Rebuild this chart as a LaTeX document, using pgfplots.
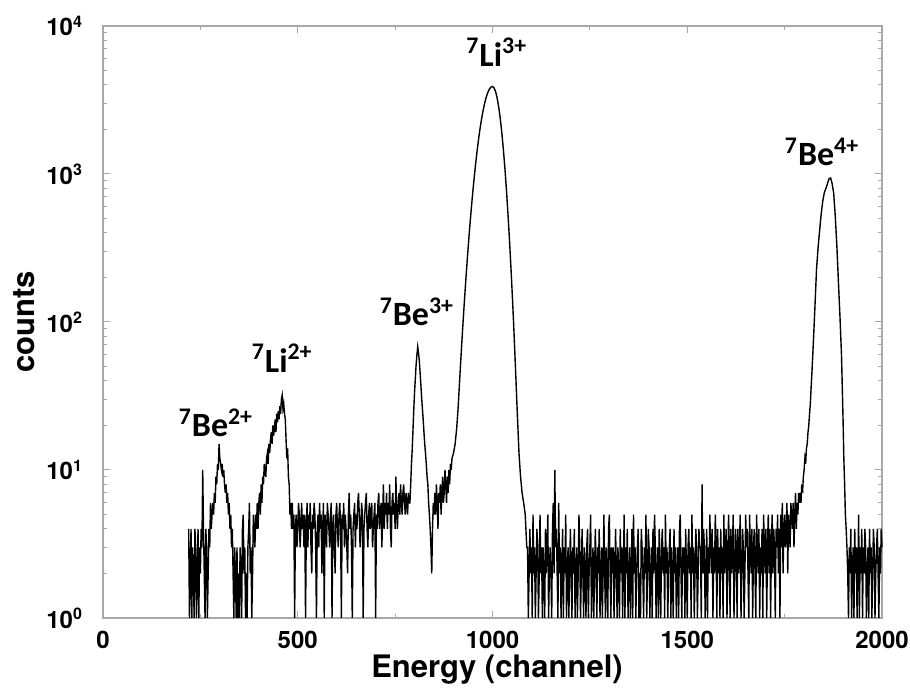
\documentclass[border=0pt]{standalone}
\usepackage{fontspec}
\usepackage{pgfplots}
\pgfplotsset{compat=1.18}
\newfontfamily\heros{TeX Gyre Heros}
\newfontfamily\carlito{Carlito}
\definecolor{axgray}{HTML}{A8A8A8}
\begin{document}
\begin{tikzpicture}
\useasboundingbox (-51.5pt,-35pt) rectangle (403.5pt,309pt);
\begin{axis}[
  at={(0pt,0pt)}, anchor=south west,
  scale only axis, width=389.5pt, height=296pt,
  xmin=0, xmax=2000, ymin=1, ymax=10000,
  ymode=log,
  axis line style={draw=axgray, line width=0.6pt},
  every tick/.style={draw=axgray, line width=0.5pt},
  major tick length=3.5pt, minor tick length=2pt,
  tick align=inside,
  xtick={0,500,1000,1500,2000},
  xticklabels={0,500,1000,1500,2000},
  minor xtick={250,750,1250,1750},
  ytick={1,10,100,1000,10000},
  yticklabels={10\textsuperscript{0},10\textsuperscript{1},10\textsuperscript{2},10\textsuperscript{3},10\textsuperscript{4}},
  minor ytick={2,3,4,5,6,7,8,9,20,30,40,50,60,70,80,90,200,300,400,500,600,700,800,900,2000,3000,4000,5000,6000,7000,8000,9000},
  tick label style={font=\heros\bfseries\fontsize{12}{14}\selectfont},
  yticklabel style={xshift=-6.5pt},
  xticklabel style={inner sep=0pt, yshift=-6.5pt},
  clip=false,
]
\addplot[black, line width=0.7pt] coordinates {
(220,4)(222,1)(224,2)(226,4)(228,1)(230,3)(232,2)(234,1)(236,4)(238,3)(240,1)(242,2)(244,4)(246,1)(248,3)(250,2)(252,4)(254,3)(256,10)(258,4)(260,2)(262,1)(264,4)(266,3)(268,1)(270,2)(272,4)(274,3)(276,6)(278,4)(280,5)(282,6)
(284,5)(286,7)(288,6)(290,9)(292,8)(294,11)(296,10)(298,15)(300,12)(302,11)(304,10)(306,11)(308,9)(310,10)(312,8)(314,7)(316,8)(318,6)(320,7)(322,5)(324,6)(326,4)(328,5)(330,3)(332,4)(334,2)
(336,1)(338,3)(340,2)(342,1)(344,3)(346,1)(348,2)(350,1)(352,3)(354,2)(356,1)(358,4)(360,5)(362,2)(364,3)(366,1)(368,2)(370,1)(372,3)(374,4)(376,6)(378,2)(380,3)(382,1)(384,2)(386,5)(388,4)(390,3)(392,5)(394,4)(396,6)
(398,4)(400,6)(402,7)(404,5)(406,8)(408,6)(410,9)(412,8)(414,11)(416,10)(418,9)(420,12)(422,13)(424,11)(426,15)(428,13)(430,16)(432,18)(434,15)(436,20)(438,17)(440,19)(442,22)(444,18)(446,24)(448,21)(450,25)(452,22)(454,27)(456,24)(458,30)(460,32)(462,26)(464,28)(466,24)(468,22)(470,16)(472,12)(474,14)(476,9)(478,8)(480,5)(482,6)(484,4)(486,6)
(488,4)(490,5)(492,1)(494,4)(496,5)(498,3)(500,4)(502,6)(504,5)(506,3)(508,4)(510,6)(512,4)(514,5)(516,3)(518,5)(520,1)(522,4)(524,6)(526,3)(528,5)(530,4)(532,6)(534,3)(536,2)(538,5)(540,4)(542,6)(544,5)(546,3)(548,1)(550,4)(552,5)(554,3)(556,6)(558,4)(560,5)(562,2)(564,4)(566,6)(568,1)(570,5)(572,4)(574,3)(576,6)(578,5)(580,4)(582,3)(584,5)(586,6)(588,1)(590,4)(592,5)(594,3)(596,2)(598,5)
(600,6)(602,4)(604,3)(606,5)(608,6)(610,4)(612,1)(614,5)(616,4)(618,6)(620,3)(622,5)(624,4)(626,3)(628,2)(630,5)(632,7)(634,4)(636,5)(638,3)(640,1)(642,4)(644,5)(646,6)(648,3)(650,5)(652,4)(654,6)(656,7)(658,5)(660,3)(662,4)(664,6)(666,5)(668,1)(670,4)(672,5)(674,6)(676,7)(678,4)(680,3)(682,5)(684,6)(686,4)(688,5)(690,6)(692,3)(694,4)(696,5)(698,6)
(700,1)(702,5)(704,4)(706,6)(708,7)(710,4)(712,5)(714,6)(716,3)(718,5)(720,8)(722,4)(724,6)(726,5)(728,7)(730,4)(732,6)(734,5)(736,8)(738,4)(740,3)(742,6)(744,7)(746,5)(748,6)(750,4)(752,9)(754,5)(756,4)(758,6)(760,7)(762,5)(764,8)(766,6)(768,5)(770,7)(772,8)(774,6)(776,5)(778,7)(780,6)(782,5)(784,7)(786,6)
(788,6)(790,8)(792,11)(794,14)(796,19)(798,26)(800,34)(802,42)(804,52)(806,60)(808,68)(810,62)(812,55)(814,46)(816,38)(818,31)(820,26)(822,22)(824,18)(826,15)(828,13)(830,11)(832,9)(834,8)(836,6)(838,5)(840,4)(842,3)(844,2)(846,4)(848,6)
(850,5)(852,7)(854,5)(856,8)(858,6)(860,4)(862,7)(864,6)(866,8)(868,5)(870,7)(872,9)(874,6)(876,7)(878,10)(880,8)(882,6)(884,9)(886,7)(888,10)(890,8)(892,11)(894,10)
(896,12)(900,13)(904,15)(908,19)(912,27)(916,42)(920,64)(924,96)(928,140)(932,201)(936,282)(940,388)(944,522)(948,689)(952,890)(956,1127)(960,1398)(964,1699)(968,2024)(972,2359)(976,2697)(980,3018)(984,3310)(988,3556)(992,3744)(996,3860)
(1000,3900)(1004,3822)(1008,3600)(1012,3254)(1016,2828)(1020,2359)(1024,1891)(1028,1456)(1032,1078)(1036,766)(1040,522)(1044,343)(1048,216)(1052,131)(1056,76)(1060,42)(1064,23)(1068,13)(1072,9)(1076,7)(1080,6)(1084,5)(1088,3)
(1090,3)(1092,1)(1094,2)(1096,4)(1098,2)(1100,3)(1102,1)(1104,5)(1106,2)(1108,3)
(1110,1)(1112,2)(1114,4)(1116,3)(1118,1)(1120,2)(1122,5)(1124,2)(1126,3)(1128,1)
(1130,3)(1132,2)(1134,1)(1136,4)(1138,2)(1140,3)(1142,5)(1144,1)(1146,2)(1148,3)
(1150,2)(1152,1)(1154,4)(1156,6)(1158,2)(1160,10)(1162,3)(1164,4)(1166,2)(1168,1)
(1170,6)(1172,2)(1174,3)(1176,1)(1178,2)(1180,4)(1182,1)(1184,3)(1186,2)(1188,5)
(1190,1)(1192,2)(1194,3)(1196,1)(1198,2)(1200,4)(1202,2)(1204,1)(1206,3)(1208,2)
(1210,4)(1212,1)(1214,2)(1216,3)(1218,1)(1220,2)(1222,5)(1224,3)(1226,1)(1228,2)
(1230,4)(1232,2)(1234,1)(1236,3)(1238,2)(1240,1)(1242,3)(1244,4)(1246,1)(1248,2)
(1250,3)(1252,5)(1254,1)(1256,2)(1258,3)(1260,1)(1262,2)(1264,4)(1266,2)(1268,1)
(1270,3)(1272,2)(1274,4)(1276,1)(1278,2)(1280,3)(1282,1)(1284,2)(1286,5)(1288,2)
(1290,1)(1292,3)(1294,2)(1296,1)(1298,4)(1300,5)(1302,2)(1304,1)(1306,3)(1308,2)
(1310,3)(1312,1)(1314,2)(1316,4)(1318,2)(1320,1)(1322,3)(1324,2)(1326,1)(1328,4)
(1330,2)(1332,3)(1334,1)(1336,2)(1338,5)(1340,1)(1342,3)(1344,2)(1346,4)(1348,1)
(1350,2)(1352,3)(1354,1)(1356,2)(1358,4)(1360,1)(1362,5)(1364,2)(1366,3)(1368,1)
(1370,2)(1372,3)(1374,4)(1376,1)(1378,2)(1380,1)(1382,4)(1384,3)(1386,2)(1388,1)
(1390,3)(1392,2)(1394,5)(1396,1)(1398,2)(1400,4)(1402,3)(1404,1)(1406,2)(1408,3)
(1410,1)(1412,4)(1414,2)(1416,5)(1418,3)(1420,1)(1422,2)(1424,3)(1426,1)(1428,4)
(1430,2)(1432,1)(1434,3)(1436,4)(1438,2)(1440,3)(1442,1)(1444,5)(1446,2)(1448,3)
(1450,1)(1452,2)(1454,3)(1456,4)(1458,1)(1460,3)(1462,2)(1464,1)(1466,4)(1468,2)
(1470,3)(1472,1)(1474,2)(1476,3)(1478,1)(1480,4)(1482,5)(1484,2)(1486,1)(1488,3)
(1490,2)(1492,3)(1494,1)(1496,4)(1498,2)(1500,1)(1502,3)(1504,4)(1506,2)(1508,3)
(1510,1)(1512,5)(1514,2)(1516,3)(1518,1)(1520,2)(1522,4)(1524,3)(1526,1)(1528,2)
(1530,4)(1532,3)(1534,3)(1536,1)(1538,8)(1540,2)(1542,4)(1544,3)(1546,1)(1548,2)
(1550,4)(1552,1)(1554,3)(1556,2)(1558,5)(1560,3)(1562,2)(1564,4)(1566,1)(1568,3)
(1570,2)(1572,5)(1574,3)(1576,1)(1578,4)(1580,2)(1582,3)(1584,1)(1586,4)(1588,2)
(1590,3)(1592,1)(1594,5)(1596,2)(1598,3)(1600,4)(1602,1)(1604,2)(1606,5)(1608,3)
(1610,1)(1612,4)(1614,2)(1616,3)(1618,5)(1620,1)(1622,2)(1624,4)(1626,3)(1628,1)
(1630,4)(1632,2)(1634,3)(1636,5)(1638,1)(1640,2)(1642,4)(1644,3)(1646,1)(1648,2)
(1650,5)(1652,3)(1654,4)(1656,2)(1658,1)(1660,5)(1662,3)(1664,2)(1666,4)(1668,1)
(1670,3)(1672,4)(1674,2)(1676,1)(1678,5)(1680,3)(1682,2)(1684,4)(1686,1)(1688,3)
(1690,2)(1692,4)(1694,1)(1696,5)(1698,3)(1700,2)(1702,4)(1704,1)(1706,3)(1708,5)
(1710,2)(1712,4)(1714,1)(1716,3)(1718,5)(1720,2)(1722,4)(1724,3)(1726,1)(1728,4)
(1730,3)(1732,5)(1734,2)(1736,4)(1738,1)(1740,5)(1742,3)(1744,6)(1746,2)(1748,4)
(1750,5)(1752,3)(1754,4)(1756,6)(1758,2)(1760,5)(1762,4)(1764,3)(1766,6)(1768,5)
(1770,4)(1772,6)(1774,3)(1776,5)(1778,7)(1780,4)(1782,6)(1784,5)(1786,7)(1788,6)
(1790,7)(1792,6)(1794,8)(1796,7)(1798,9)(1800,10)(1802,12)(1804,11)(1806,14)(1808,15)(1810,18)(1812,20)(1814,24)(1816,28)(1818,36)(1820,45)(1824,75)(1828,130)(1832,230)(1836,320)(1840,420)(1844,540)(1848,660)(1852,750)(1856,800)(1860,860)(1864,930)(1868,940)(1872,860)(1876,740)(1880,520)(1884,330)(1888,190)(1892,110)(1896,60)(1900,22)(1902,12)(1904,8)(1906,5)(1908,4)(1910,3)(1912,2)
(1914,1)(1916,3)(1918,2)(1920,4)(1922,1)(1924,2)(1926,3)(1928,1)(1930,4)(1932,2)
(1934,3)(1936,1)(1938,2)(1940,5)(1942,1)(1944,3)(1946,2)(1948,4)(1950,1)(1952,3)
(1954,2)(1956,4)(1958,3)(1960,1)(1962,2)(1964,3)(1966,1)(1968,4)(1970,2)(1972,3)
(1974,1)(1976,2)(1978,4)(1980,3)(1982,1)(1984,2)(1986,3)(1988,4)(1990,2)(1992,1)
(1994,3)(1996,2)(1998,4)(2000,3)
};
\begin{scope}[every node/.style={font=\carlito\bfseries\fontsize{17}{20}\selectfont, inner sep=0pt}]
\node at (axis cs:1011,6670) {\textsuperscript{7}Li\textsuperscript{3+}};
\node at (axis cs:1846,1410) {\textsuperscript{7}Be\textsuperscript{4+}};
\node at (axis cs:806,117) {\textsuperscript{7}Be\textsuperscript{3+}};
\node at (axis cs:460,57) {\textsuperscript{7}Li\textsuperscript{2+}};
\node at (axis cs:290,20.8) {\textsuperscript{7}Be\textsuperscript{2+}};
\end{scope}
\end{axis}
\node[font=\heros\bfseries\fontsize{15.5}{18}\selectfont, anchor=base, inner sep=0pt] at (197pt,-30pt) {Energy (channel)};
\node[font=\heros\bfseries\fontsize{15.5}{18}\selectfont, anchor=center, rotate=90] at (-39.5pt,148pt) {counts};
\end{tikzpicture}
\end{document}
